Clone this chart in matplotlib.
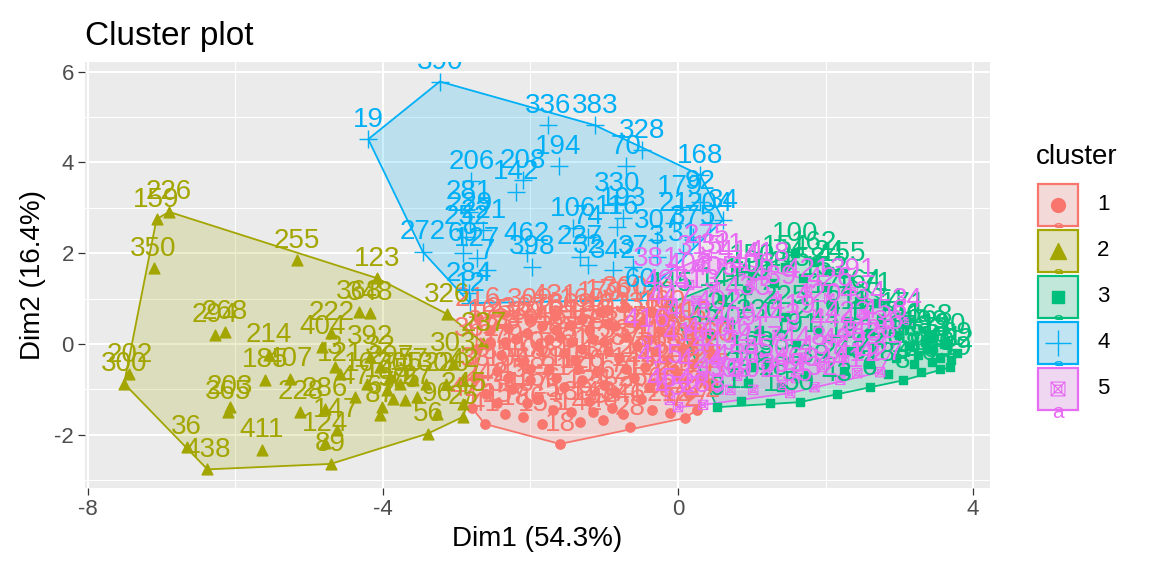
import numpy as np
import matplotlib
matplotlib.use("Agg")
import matplotlib.pyplot as plt
from matplotlib.path import Path
from matplotlib.patches import Rectangle, Polygon

plt.rcParams['font.family'] = ['Liberation Sans', 'DejaVu Sans']
plt.rcParams['axes.unicode_minus'] = False

# cluster 1 (x, y, label)
c1 = [
    (-2.71, 0.57, '216'), (-1.67, 0.62, '431'), (-1.06, 0.70, '179'), (-0.95, 0.74, '176'), (-0.72, 0.81, '360'),
    (-2.30, 0.35, '236'), (-1.85, 0.40, '376'), (-1.45, 0.42, '369'), (-1.20, 0.30, '166'), (-0.55, 0.45, '131'),
    (-0.20, 0.50, '160'), (-2.55, 0.05, '373'), (-2.20, 0.10, '340'), (-1.90, -0.05, '22'), (-1.60, 0.15, '151'),
    (-1.30, -0.10, '77'), (-1.00, 0.05, '88'), (-0.70, 0.15, '115'), (-0.40, 0.10, '201'), (-0.10, 0.20, '44'),
    (0.20, 0.05, '52'), (-2.45, -0.60, '35'), (-2.10, -0.40, '110'), (-1.75, -0.55, '98'), (-1.40, -0.35, '61'),
    (-1.10, -0.60, '14'), (-0.80, -0.30, '287'), (-0.45, -0.50, '195'), (-0.15, -0.35, '66'), (0.20, -0.45, '313'),
    (0.45, -0.20, '260'), (-2.60, -1.10, '242'), (-2.25, -1.00, '45'), (-1.90, -1.20, '156'), (-1.55, -0.95, '217'),
    (-1.20, -1.25, '124'), (-0.85, -1.05, '62'), (-0.50, -1.20, '256'), (-0.20, -0.95, '264'), (0.15, -1.10, '2'),
    (-2.79, -1.41, '425'), (-2.62, -1.76, '41'), (-2.10, -1.61, '186'), (-1.60, -2.20, '18'), (-1.33, -1.72, '142'),
    (-1.02, -1.67, '46'), (-0.65, -1.83, '28'), (-0.11, -1.52, '212'), (0.09, -1.63, '72'), (0.26, -1.45, '422'),
    (0.40, -0.90, '247'), (-2.00, 0.55, '309'), (-1.30, 0.55, '169'), (-0.35, 0.70, '170'), (-2.40, -0.25, '379'),
    (-1.55, -0.20, '95'), (-0.95, -0.15, '133'), (-0.30, -0.15, '118'), (-2.00, -0.80, '58'), (-1.30, -0.80, '126'),
    (-0.60, -0.75, '144'), (0.00, -0.70, '209'), (-1.70, -1.45, '5'), (-0.90, -1.40, '232'), (-2.72, -0.10, '362'),
    (-2.75, -0.75, '38'), (-2.35, 0.05, '23'), (-2.05, 0.25, '39'), (-1.75, 0.10, '48'), (-1.45, 0.05, '53'),
    (-1.15, 0.10, '64'), (-0.85, 0.40, '73'), (-0.55, -0.05, '81'), (-0.25, 0.30, '85'), (0.05, -0.10, '93'),
    (0.35, 0.25, '102'), (-2.30, -0.75, '104'), (-2.00, -0.55, '108'), (-1.65, -0.75, '111'), (-1.35, -0.55, '113'),
    (-1.00, -0.90, '117'), (-0.70, -0.55, '120'), (-0.40, -0.95, '122'), (-0.05, -0.55, '125'), (0.30, -0.70, '128'),
    (-2.45, -1.30, '134'), (-2.05, -1.30, '137'), (-1.45, -1.50, '139'), (-1.15, -1.50, '143'), (-0.75, -1.55, '146'),
    (-0.35, -1.45, '148'), (-1.85, -1.75, '153'), (-2.35, -1.55, '157'), (-1.65, 0.30, '161'), (-0.95, 0.45, '163'),
    (-2.55, 0.30, '165'),
]

# cluster 2
c2 = [
    (-7.07, 2.75, '159'), (-6.90, 2.91, '226'), (-7.11, 1.67, '350'), (-7.44, -0.66, '202'), (-7.51, -0.87, '300'),
    (-6.66, -2.26, '36'), (-6.38, -2.76, '438'), (-4.71, -2.64, '89'), (-3.39, -1.97, '56'), (-2.91, -1.60, '25'),
    (-3.13, 0.66, '326'), (-4.08, 1.45, '123'), (-5.17, 1.85, '255'), (-6.28, 0.20, '294'), (-6.14, 0.27, '268'),
    (-5.60, -0.79, '185'), (-5.26, -0.76, '407'), (-4.82, -0.06, '404'), (-4.70, 0.25, '222'), (-4.33, 0.71, '368'),
    (-4.18, 0.69, '348'), (-6.07, -1.38, '203'), (-6.10, -1.49, '365'), (-5.12, -1.49, '228'), (-4.79, -1.42, '286'),
    (-4.63, -1.89, '147'), (-4.79, -2.19, '124'), (-5.64, -2.33, '411'), (-5.55, -0.24, '214'), (-4.65, -0.50, '3'),
    (-4.58, -0.65, '121'), (-4.38, -1.16, '47'), (-4.02, -1.38, '67'), (-4.04, -1.56, '87'), (-3.86, -1.20, '90'),
    (-3.70, -1.23, '75'), (-3.27, -1.53, '96'), (-4.18, -0.28, '392'), (-4.04, -0.50, '32'), (-3.90, -0.72, '297'),
    (-3.77, -0.87, '305'), (-3.59, -0.79, '57'), (-3.41, -0.87, '130'), (-3.14, -0.87, '220'), (-2.91, -0.79, '42'),
    (-3.05, -0.43, '303'), (-4.22, -0.87, '167'), (-3.95, -1.01, '145'), (-3.54, -1.16, '27'), (-2.91, -1.31, '245'),
    (-2.64, 0.02, '237'),
]

# cluster 3
c3 = [
    (1.59, 2.00, '100'), (2.24, 1.56, '155'), (2.05, 1.60, '24'), (2.70, 0.90, '71'), (3.42, 0.18, '168'),
    (3.78, -0.20, '69'), (3.69, -0.51, '119'), (3.55, -0.55, '59'), (3.30, -0.62, '40'), (3.05, -0.80, '8'),
    (2.60, -0.95, '6'), (2.15, -1.10, '43'), (1.65, -1.28, '50'), (1.25, -1.30, '1'), (0.85, -1.25, '11'),
    (0.53, -1.39, '9'), (-0.11, 0.90, '445'), (0.94, 1.19, '140'), (0.60, 1.00, '141'), (1.30, 1.35, '149'),
    (1.70, 1.45, '158'), (2.00, 1.25, '152'), (2.45, 0.95, '164'), (3.05, 0.45, '171'), (3.40, -0.10, '173'),
    (3.55, -0.30, '181'), (3.25, -0.25, '188'), (3.60, 0.00, '190'), (3.35, 0.05, '199'), (2.95, -0.30, '205'),
    (2.60, -0.45, '27'), (2.30, 0.50, '211'), (1.90, 0.30, '219'), (1.45, 0.60, '225'), (1.10, 0.30, '230'),
    (0.70, 0.45, '241'), (1.20, -0.40, '233'), (1.75, -0.70, '239'), (2.25, -0.60, '243'), (0.95, -0.85, '248'),
    (0.45, 0.20, '457'), (2.60, 0.25, '177'), (1.00, 1.50, '150'), (1.45, 1.70, '154'), (1.85, 1.80, '162'),
    (2.10, 0.85, '172'), (2.75, 0.55, '174'), (3.15, -0.05, '178'), (3.45, -0.40, '180'), (3.70, -0.35, '182'),
    (3.20, -0.45, '183'), (2.85, -0.65, '184'), (1.40, -0.95, '187'), (1.00, -0.50, '189'), (1.60, 0.00, '191'),
    (2.35, -0.15, '192'), (3.00, 0.20, '196'),
]

# cluster 4
c4 = [
    (-3.23, 5.78, '390'), (-4.20, 4.51, '19'), (-3.46, 2.03, '272'), (-2.84, 1.12, '284'), (-1.76, 4.82, '336'),
    (-1.13, 4.82, '383'), (-0.49, 4.27, '328'), (-0.70, 3.91, '70'), (0.30, 3.72, '168'), (-1.62, 3.91, '194'),
    (-2.10, 3.61, '208'), (-2.19, 3.35, '142'), (-2.80, 3.58, '206'), (-2.84, 2.91, '281'), (-2.82, 2.66, '229'),
    (-2.64, 2.51, '221'), (-2.87, 2.36, '252'), (-2.91, 2.00, '69'), (-2.73, 1.89, '127'), (-2.59, 1.63, '7'),
    (-2.05, 2.00, '462'), (-1.98, 1.70, '398'), (-1.42, 2.55, '106'), (-1.22, 2.36, '74'), (-0.83, 2.58, '116'),
    (-0.83, 3.10, '330'), (-0.74, 2.77, '193'), (-1.33, 1.92, '227'), (-1.22, 1.74, '32'), (-0.88, 1.63, '342'),
    (-0.61, 1.70, '37'), (-0.29, 1.92, '3'), (0.03, 3.02, '179'), (0.30, 3.13, '92'), (0.43, 2.66, '204'),
    (0.61, 2.73, '34'), (0.21, 2.36, '375'), (-0.29, 2.29, '307'), (-0.06, 2.66, '21'), (-2.82, 0.90, '12'),
    (-0.52, 0.97, '60'), (0.07, 2.00, '31'),
]

# cluster 5
c5 = [
    (0.00, -1.39, '452'), (0.34, -1.34, '288'), (0.71, -1.01, '399'), (1.02, -1.01, '302'), (1.42, -0.90, '395'),
    (2.20, -0.79, '441'), (2.43, -0.64, '412'), (2.74, -0.62, '427'), (-0.11, -1.23, '454'), (-0.42, 0.09, '416'),
    (3.11, 0.53, '34'), (2.37, 1.19, '391'), (0.39, 1.94, '275'), (0.30, 1.70, '315'), (0.60, 1.75, '311'),
    (0.85, 1.60, '414'), (1.20, 1.55, '418'), (-0.30, 1.45, '381'), (-0.10, 0.60, '447'), (0.25, 0.95, '413'),
    (0.55, 0.50, '402'), (0.95, 0.80, '433'), (1.30, 1.05, '439'), (1.75, 1.20, '421'), (2.05, 1.00, '426'),
    (2.50, 0.70, '434'), (2.80, 0.30, '456'), (0.10, -0.20, '410'), (0.50, -0.40, '449'), (0.90, -0.10, '461'),
    (1.35, 0.20, '443'), (1.70, -0.30, '448'), (2.10, 0.10, '444'), (2.45, -0.20, '453'), (0.30, -0.80, '424'),
    (0.80, -0.70, '458'), (1.20, -0.55, '450'), (1.60, -0.75, '460'), (1.95, -0.50, '437'), (2.25, -0.35, '429'),
    (-0.25, -0.70, '415'), (1.52, -1.08, '455'), (0.15, 1.30, '403'), (0.50, 1.25, '405'), (1.00, 1.30, '406'),
    (0.15, 0.30, '408'), (0.75, 0.15, '409'), (1.10, -0.30, '417'), (1.55, 0.40, '419'), (1.90, 0.65, '420'),
    (2.30, 0.25, '423'), (2.65, -0.15, '428'), (0.55, -1.00, '430'), (1.85, -0.95, '432'), (-0.15, 0.95, '435'),
    (2.75, 0.05, '436'), (0.40, -0.10, '440'),
]

clusters = ['1', '2', '3', '4', '5']
cluster_data = [c1, c2, c3, c4, c5]
colors = ['#F8766D', '#A3A500', '#00BF7D', '#00B0F6', '#E76BF3']

# square with a cross and inner square (pch-like)
M, L = Path.MOVETO, Path.LINETO
box_x = Path(
    [(-1, -1), (1, -1), (1, 1), (-1, 1), (-1, -1),
     (-1, -1), (1, 1), (-1, 1), (1, -1),
     (-0.55, -0.55), (0.55, -0.55), (0.55, 0.55), (-0.55, 0.55), (-0.55, -0.55)],
    [M, L, L, L, L, M, L, M, L, M, L, L, L, L])

marker_style = [
    dict(marker='o', s=45),
    dict(marker='^', s=60),
    dict(marker='s', s=38),
    dict(marker='+', s=170, linewidths=1.0),
    dict(marker=box_x, s=45, linewidths=0.8, facecolors='none'),
]


def hull(pts):
    pts = sorted(set(map(tuple, pts)))
    def cross(o, a, b):
        return (a[0] - o[0]) * (b[1] - o[1]) - (a[1] - o[1]) * (b[0] - o[0])
    lower, upper = [], []
    for p in pts:
        while len(lower) >= 2 and cross(lower[-2], lower[-1], p) <= 0:
            lower.pop()
        lower.append(p)
    for p in reversed(pts):
        while len(upper) >= 2 and cross(upper[-2], upper[-1], p) <= 0:
            upper.pop()
        upper.append(p)
    return np.array(lower[:-1] + upper[:-1])


W, H = 1152, 576
fig = plt.figure(figsize=(W / 100, H / 100), dpi=100)
ax = fig.add_axes([85 / W, 1 - 488 / H, (990 - 85) / W, (488 - 62) / H])
ax.set_facecolor('#EBEBEB')
for s in ax.spines.values():
    s.set_visible(False)

ax.set_xlim(-8.04, 4.23)
ax.set_ylim(-3.17, 6.21)
ax.set_xticks([-8, -4, 0, 4])
ax.set_xticks([-6, -2, 2], minor=True)
ax.set_yticks([-2, 0, 2, 4, 6])
ax.set_yticks([-3, -1, 1, 3, 5], minor=True)
ax.grid(which='major', color='white', lw=1.5)
ax.grid(which='minor', color='white', lw=0.75)
ax.set_axisbelow(True)
ax.tick_params(which='major', length=5, width=0.9, color='#333333',
               labelsize=16, labelcolor='#4D4D4D', pad=3)
ax.tick_params(which='minor', length=0)

# hulls
for data, col in zip(cluster_data, colors):
    h = hull([(p[0], p[1]) for p in data])
    ax.add_patch(Polygon(h, closed=True, facecolor=col, alpha=0.2, edgecolor='none', zorder=1))
    ax.add_patch(Polygon(h, closed=True, facecolor='none', edgecolor=col, lw=1.3, zorder=1.1))

# points
for data, col, ms in zip(cluster_data, colors, marker_style):
    xs = [p[0] for p in data]
    ys = [p[1] for p in data]
    kw = dict(ms)
    if kw.get('facecolors') == 'none':
        ax.scatter(xs, ys, edgecolors=col, zorder=3, **kw)
    else:
        ax.scatter(xs, ys, c=col, zorder=3, **kw)

# labels
for data, col in zip(cluster_data, colors):
    for x, y, lab in data:
        ax.annotate(lab, (x, y), xytext=(0, 9), textcoords='offset points',
                    ha='center', va='baseline', fontsize=20, color=col,
                    zorder=4, annotation_clip=False, clip_on=True)

ax.set_title('Cluster plot', loc='left', fontsize=24, pad=12)
ax.set_xlabel('Dim1 (54.3%)', fontsize=20, labelpad=4)
ax.set_ylabel('Dim2 (16.4%)', fontsize=20, labelpad=6)

# legend drawn in pixel space
lax = fig.add_axes([0, 0, 1, 1])
lax.set_xlim(0, W)
lax.set_ylim(H, 0)
lax.axis('off')
lax.patch.set_visible(False)
lax.text(1036, 157, 'cluster', fontsize=20, ha='left', va='center')
key_x, key_w, key_h = 1037, 42, 44
key_top = [183, 229, 275, 321, 367]
for i, (lab, col, ms) in enumerate(zip(clusters, colors, marker_style)):
    top = key_top[i]
    z = 10 * (i + 1)
    lax.add_patch(Rectangle((key_x - 1, top - 1), key_w + 2, key_h + 2, facecolor='white', edgecolor='none', zorder=z))
    lax.add_patch(Rectangle((key_x, top), key_w, key_h, facecolor='#F2F2F2', edgecolor='none', zorder=z + 0.1))
    lax.add_patch(Rectangle((key_x, top), key_w, key_h, facecolor=col, alpha=0.2, edgecolor='none', zorder=z + 0.2))
    lax.add_patch(Rectangle((key_x + 1, top + 1), key_w - 2, key_h - 2, facecolor='none', edgecolor=col,
                            lw=1.6, zorder=z + 0.3))
    kw = dict(ms)
    kw['s'] = kw['s'] * 2.2
    cx, cy = key_x + key_w / 2, top + key_h / 2
    if kw.get('facecolors') == 'none':
        lax.scatter([cx], [cy], edgecolors=col, zorder=z + 0.4, **kw)
    else:
        lax.scatter([cx], [cy], c=col, zorder=z + 0.4, **kw)
    lax.text(cx, top + key_h + 1, 'a', fontsize=15, color=col, ha='center', va='center', zorder=z + 0.5)
    lax.text(1097, cy, lab, fontsize=16, ha='left', va='center', zorder=z + 0.5)

fig.savefig('out.png', dpi=100)
